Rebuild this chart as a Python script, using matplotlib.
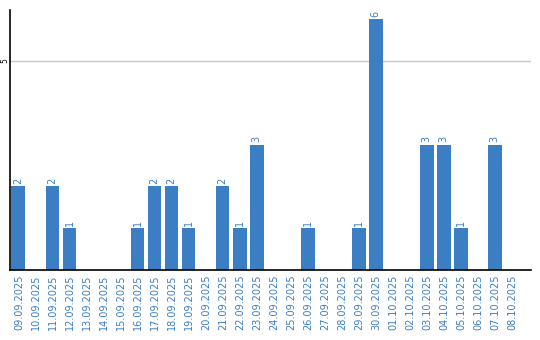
import matplotlib.pyplot as plt
import numpy as np

dates = ['09.09.2025', '10.09.2025', '11.09.2025', '12.09.2025', '13.09.2025',
         '14.09.2025', '15.09.2025', '16.09.2025', '17.09.2025', '18.09.2025',
         '19.09.2025', '20.09.2025', '21.09.2025', '22.09.2025', '23.09.2025',
         '24.09.2025', '25.09.2025', '26.09.2025', '27.09.2025', '28.09.2025',
         '29.09.2025', '30.09.2025', '01.10.2025', '02.10.2025', '03.10.2025',
         '04.10.2025', '05.10.2025', '06.10.2025', '07.10.2025', '08.10.2025']
counts = [2, 0, 2, 1, 0, 0, 0, 1, 2, 2, 1, 0, 2, 1, 3,
          0, 0, 1, 0, 0, 1, 6, 0, 0, 3, 3, 1, 0, 3, 0]

blue = '#3b7ec3'

fig = plt.figure(figsize=(5.4, 3.4), dpi=100)
ax = fig.add_axes([0.0194, 0.206, 0.9636, 0.7646])

x = np.arange(len(dates))
ax.bar(x - 0.03, counts, width=0.82, color=blue, zorder=2)

for xi, v in zip(x, counts):
    if v > 0:
        ax.text(xi - 0.03, v + 0.05, str(v), rotation=90, ha='center', va='bottom',
                color=blue, fontsize=7)

ax.set_xlim(-0.5, 30.1)
ax.set_ylim(0, 6.22)
ax.set_xticks(x)
ax.set_xticklabels(dates, rotation=90, color=blue, fontsize=7)
ax.set_yticks([5])
ax.set_yticklabels(['5'], rotation=90, fontsize=5.5, va='center')
ax.tick_params(axis='x', length=0, pad=3)
ax.tick_params(axis='y', length=0, pad=1)
ax.yaxis.grid(True, color='#c8c8c8', linewidth=1, zorder=0)

for s in ['top', 'right']:
    ax.spines[s].set_visible(False)
ax.spines['left'].set_linewidth(1.2)
ax.spines['bottom'].set_linewidth(1.2)

fig.savefig('out.png', dpi=100)
